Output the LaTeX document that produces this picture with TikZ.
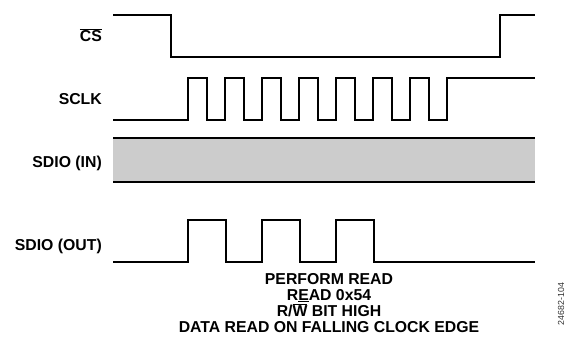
\documentclass[tikz,border=0pt]{standalone}
\usepackage{fontspec}
\setmainfont{Liberation Sans}
\definecolor{busgray}{HTML}{CCCCCC}
\tikzset{
  signal/.style = {line width=2pt, line join=miter},
  siglabel/.style = {anchor=base east, inner sep=0pt, font=\fontsize{15.8}{16}\selectfont\bfseries},
  note/.style = {anchor=base, inner sep=0pt, font=\fontsize{15.8}{16}\selectfont\bfseries},
  figno/.style = {rotate=90, inner sep=0pt, font=\fontsize{8.8}{9}\selectfont, text=black!80}
}

\begin{document}
\begin{tikzpicture}[x=1pt,y=-1pt]
  \useasboundingbox (0,0) rectangle (572,337);
  \pgfmathsetmacro{\xs}{113};   % start of traces
  \pgfmathsetmacro{\xe}{535};   % end of traces
  \pgfmathsetmacro{\per}{37};   % clock period
  \pgfmathsetmacro{\hi}{19};    % clock high time
  %
  \coordinate (csstart) at (\xs,15);
  \coordinate (csend) at (\xe,15);
  \coordinate (clkstart) at (\xs,120);
  \coordinate (clkend) at (\xe,78);
  \coordinate (outstart) at (\xs,262);
  \coordinate (outend) at (\xe,262);
  %
  % labels
  \node[siglabel] (cs) at (102,41.5) {$\overline{\mbox{CS}}$};
  \node[siglabel] (sclk) at (102,104) {SCLK};
  \node[siglabel] (sdioin) at (102,167) {SDIO (IN)};
  \node[siglabel] (sdioout) at (102,250) {SDIO (OUT)};
  % chip select
  \draw[signal] (csstart) -- (171,15) -- (171,57) -- (500,57) -- (500,15) -- (csend);
  % clock
  \draw[signal] (clkstart) -- (187.5,120)
    \foreach \i in {1,...,7}{ -- ++(0,-42) -- ++(\hi,0) -- ++(0,42) -- ++({\per-\hi},0) }
    -- ++(0,-42) -- (clkend);
  % data in
  \fill[busgray] (\xs,137.5) rectangle (\xe,182);
  \draw[signal] (\xs,137.5) -- (\xe,137.5);
  \draw[signal] (\xs,182) -- (\xe,182);
  % data out
  \draw[signal] (outstart) -- (187.5,262)
    \foreach \i in {1,2,3}{ -- ++(0,-42) -- ++(38.5,0) -- ++(0,42) -- ++(35.5,0) }
    -- (outend);
  % notes
  \node[note] (perform) at (329,284) {PERFORM READ};
  \node[note] (readaddr) at (329,300) {R\underline{E}AD 0x54};
  \node[note] (rwbit) at (329,316) {R/$\overline{\mbox{W}}$ BIT HIGH};
  \node[note] (dataread) at (329,332) {DATA READ ON FALLING CLOCK EDGE};
  \node[figno] (figid) at (561,304) {24682-104};
\end{tikzpicture}
\end{document}
